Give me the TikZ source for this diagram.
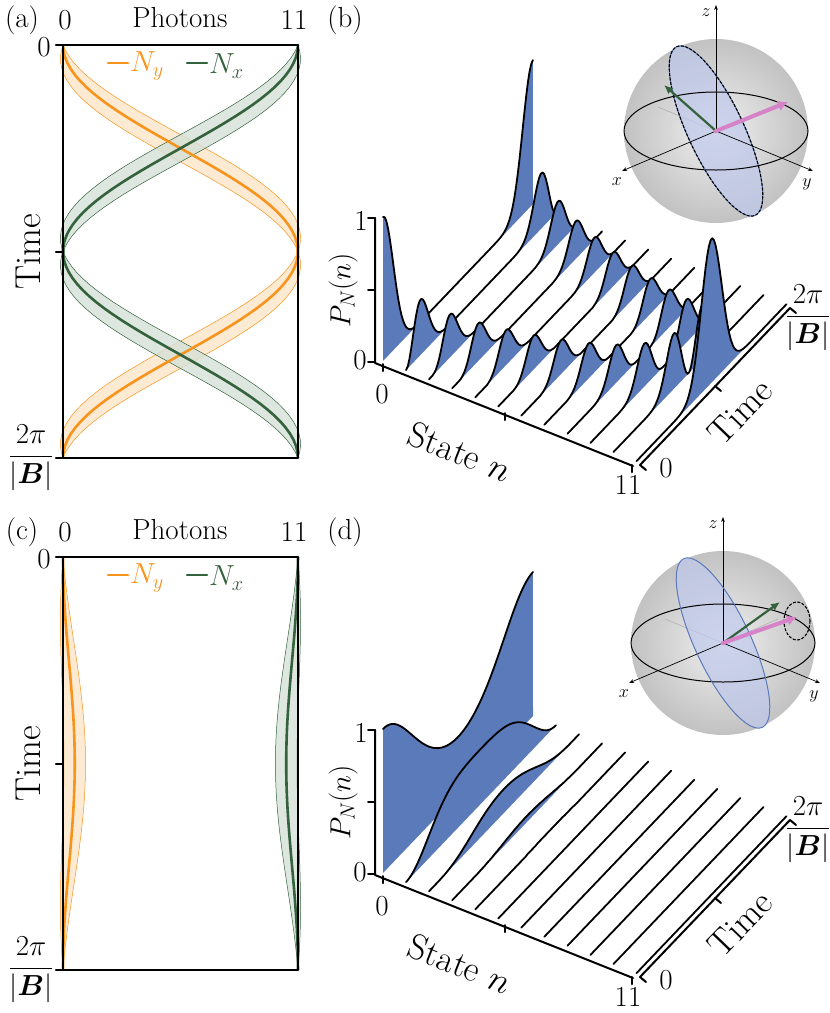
\RequirePackage{fix-cm}
\documentclass[tikz,border=0pt]{standalone}
\usepackage{amsmath}
\usepackage{fontspec}
\usetikzlibrary{arrows.meta}
\definecolor{nyorange}{RGB}{247,148,30}
\definecolor{nxgreen}{RGB}{52,98,60}
\definecolor{wallblue}{RGB}{91,122,185}
\definecolor{vecpink}{RGB}{214,130,200}
\definecolor{diskblue}{RGB}{190,200,235}
\tikzset{
  lbl/.style={font=\fontsize{29}{30}\selectfont, inner sep=0pt},
  biglbl/.style={font=\fontsize{36}{37}\selectfont, inner sep=0pt},
  frame/.style={line width=2.2pt},
  wall/.style={fill=wallblue},
  crest/.style={line width=1.8pt, line join=round},
  axisline/.style={line width=2pt},
  tinyax/.style={-{Stealth[length=5pt]}, line width=0.7pt},
}
\begin{document}
\begin{tikzpicture}[x=1pt, y=-1pt, line join=round, line cap=round,
  declare function={
    ny(\s,\q)=11*\q*sin(180*\s)^2;
    sd(\s,\q)=sqrt(11*\q*sin(180*\s)^2*(1-\q*sin(180*\s)^2));
    pn(\s,\q,\n,\c)=\c*max(\q*sin(180*\s)^2,0.00001)^\n*max(1-\q*sin(180*\s)^2,0.00001)^(11-\n);
  }]
\useasboundingbox (0,0) rectangle (830,1013);
% photon panels (a) and (c)
\foreach \dy/\q/\tag in {0/1/a, 512/0.05/c}{
  \begin{scope}[yshift=-\dy]
  \node[lbl] (tag\tag) at (22,20) {(\tag)};
  \node[lbl] (ph\tag) at (180,18) {Photons};
  \node[lbl] (pz\tag) at (65,20) {0};
  \node[lbl] (pe\tag) at (294,20) {11};
  \node[lbl] (tz\tag) at (44,47) {0};
  \node[biglbl, rotate=90] (ti\tag) at (28,252) {Time};
  \node[lbl] (tp\tag) at (31,458) {$\dfrac{2\pi}{|\boldsymbol{B}|}$};
  % bands
  \fill[nyorange!20, draw=nyorange, line width=0.5pt] plot[domain=0:1, samples=70, variable=\s]
    ({63+21.36*(ny(\s,\q)+0.7*sd(\s,\q))},{45+413*\s}) --
    plot[domain=1:0, samples=70, variable=\s] ({63+21.36*(ny(\s,\q)-0.7*sd(\s,\q))},{45+413*\s}) -- cycle;
  \fill[nxgreen!20, fill opacity=0.8, draw=nxgreen, line width=0.5pt] plot[domain=0:1, samples=70, variable=\s]
    ({63+21.36*(11-ny(\s,\q)+0.7*sd(\s,\q))},{45+413*\s}) --
    plot[domain=1:0, samples=70, variable=\s] ({63+21.36*(11-ny(\s,\q)-0.7*sd(\s,\q))},{45+413*\s}) -- cycle;
  \draw[nyorange, line width=2.6pt] plot[domain=0:1, samples=70, variable=\s] ({63+21.36*ny(\s,\q)},{45+413*\s});
  \draw[nxgreen, line width=2.6pt] plot[domain=0:1, samples=70, variable=\s] ({63+21.36*(11-ny(\s,\q))},{45+413*\s});
  \draw[frame] (63,45) rectangle (298,458);
  \foreach \y in {45,252,458} \draw[frame] (56,\y) -- (63,\y);
  % legend
  \draw[nyorange, line width=2.6pt] (108,63) -- (128,63);
  \node[lbl, text=nyorange, anchor=west] (lgy\tag) at (130,66) {$N_y$};
  \draw[nxgreen, line width=2.6pt] (187,63) -- (207,63);
  \node[lbl, text=nxgreen, anchor=west] (lgx\tag) at (209,66) {$N_x$};
  \end{scope}
}
% waterfall panels (b) and (d)
\foreach \dy/\q/\tag in {0/1/b, 512/0.08/d}{
  \begin{scope}[yshift=-\dy]
  \node[lbl] (tag\tag) at (345,20) {(\tag)};
  \foreach \n/\c in {0/1,1/11,2/55,3/165,4/330,5/462,6/462,7/330,8/165,9/55,10/11,11/1}{
    \pgfmathsetmacro{\xo}{383+23.05*\n}
    \pgfmathsetmacro{\yo}{361+9.1*\n}
    \fill[wall] (\xo,\yo) -- plot[domain=0:1, samples=90, variable=\s]
      ({\xo+150*\s},{\yo-157*\s-144*pn(\s,\q,\n,\c)}) -- ({\xo+150},{\yo-157}) -- cycle;
    \draw[crest] plot[domain=0:1, samples=90, variable=\s]
      ({\xo+150*\s},{\yo-157*\s-144*pn(\s,\q,\n,\c)});
  }
  % axes
  \draw[axisline] (375,218) -- (375,363) -- (633,466);
  \foreach \y in {218,290,362} \draw[axisline] (368,\y) -- (375,\y);
  \draw[axisline] (383,364) -- (383,371);
  \draw[axisline] (505,413) -- (505,420);
  \draw[axisline] (632,465) -- (632,472);
  \draw[axisline] (640,465) -- (790,308);
  \draw[axisline] (640,465) -- (646,470);
  \draw[axisline] (715,386) -- (721,391);
  \draw[axisline] (790,308) -- (796,313);
  \node[lbl] (p1\tag) at (361,221) {1};
  \node[lbl] (p0\tag) at (360,360) {0};
  \node[lbl, rotate=90] (pl\tag) at (343,290) {$P_N(n)$};
  \node[lbl] (s0\tag) at (382,394) {0};
  \node[lbl] (s11\tag) at (628,485) {11};
  \node[biglbl, rotate=-21.5] (st\tag) at (460,452) {State $n$};
  \node[lbl] (t0\tag) at (666,468) {0};
  \node[biglbl, rotate=46] (tt\tag) at (740,412) {Time};
  \node[lbl] (tp\tag) at (808,318) {$\dfrac{2\pi}{|\boldsymbol{B}|}$};
  \end{scope}
}
% Bloch spheres
\foreach \cx/\cy/\tag in {716/131/b, 723/643/d}{
  \begin{scope}[shift={(\cx,\cy)}]
  \shade[inner color=gray!12, outer color=gray!48] (0,0) circle (92);
  \draw[gray!60, line width=0.6pt] (0,0) -- (55,-24) (0,0) -- (-58,-24);
  \fill[diskblue, fill opacity=0.7, rotate=25] (0,0) ellipse (28 and 93);
  \draw[black, line width=1pt] (0,0) ellipse (92 and 39);
  \draw[tinyax] (0,0) -- (0,-126);
  \draw[tinyax] (0,0) -- (-94,40);
  \draw[tinyax] (0,0) -- (97,40);
  \node[font=\fontsize{18}{18}\selectfont, inner sep=0pt] (z\tag) at (-10,-118) {$z$};
  \node[font=\fontsize{18}{18}\selectfont, inner sep=0pt] (x\tag) at (-99,51) {$x$};
  \node[font=\fontsize{18}{18}\selectfont, inner sep=0pt] (y\tag) at (91,53) {$y$};
  \end{scope}
}
\begin{scope}[shift={(716,131)}]
  \draw[wallblue, line width=1pt, rotate=25] (0,0) ellipse (28 and 93);
  \draw[dashed, line width=1.1pt, dash pattern=on 2.5pt off 2pt, rotate=25] (0,0) ellipse (28 and 93);
  \draw[nxgreen, line width=2.2pt, -{Latex[length=9pt,width=8pt]}] (0,0) -- (-52,-46);
  \draw[vecpink, line width=4pt, -{Latex[length=10pt,width=11pt]}] (0,0) -- (72,-29);
\end{scope}
\begin{scope}[shift={(723,643)}]
  \draw[wallblue, line width=1pt, rotate=25] (0,0) ellipse (28 and 93);
  \draw[dashed, line width=1.1pt, dash pattern=on 2.5pt off 2pt] (74,-22) ellipse (13 and 19);
  \draw[nxgreen, line width=2.2pt, -{Latex[length=9pt,width=8pt]}] (0,0) -- (57,-41);
  \draw[vecpink, line width=4pt, -{Latex[length=10pt,width=11pt]}] (0,0) -- (74,-26);
\end{scope}
\end{tikzpicture}
\end{document}
